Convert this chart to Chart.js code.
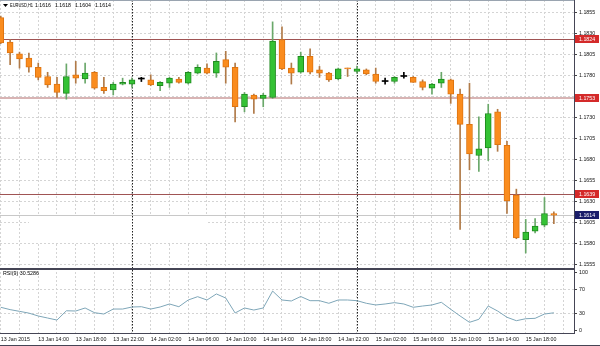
<!DOCTYPE html>
<html>
<head>
<meta charset="utf-8">
<script src="https://cdn.jsdelivr.net/npm/chart.js@4.4.1/dist/chart.umd.min.js"></script>
<style>
  html, body { margin: 0; padding: 0; background: #fff; }
  #wrap { position: relative; width: 600px; height: 346px; }
</style>
</head>
<body>
<div id="wrap"><canvas id="chart" width="600" height="346"></canvas></div>
<script>
// EURUSD H1, 13 Jan 10:00 -> 15 Jan 21:00 (one entry per bar)
const opens = [1.1849, 1.1820, 1.1806, 1.1801, 1.1790, 1.1779, 1.1770, 1.1759, 1.1781, 1.1776,
  1.1784, 1.1766, 1.1763, 1.1770, 1.1770, 1.1776, 1.1775, 1.1768, 1.1771, 1.1776,
  1.1771, 1.1783, 1.1789, 1.1783, 1.1799, 1.1790, 1.1743, 1.1757, 1.1753, 1.1754,
  1.1823, 1.1789, 1.1784, 1.1803, 1.1787, 1.1783, 1.1776, 1.1789, 1.1785, 1.1787,
  1.1782, 1.1773, 1.1773, 1.1779, 1.1778, 1.1773, 1.1765, 1.1771, 1.1775, 1.1758,
  1.1722, 1.1685, 1.1694, 1.1737, 1.1697, 1.1638, 1.1585, 1.1595, 1.1602, 1.1616];
const highs = [1.1851, 1.1823, 1.1808, 1.1807, 1.1795, 1.1784, 1.1778, 1.1794, 1.1797, 1.1795,
  1.1785, 1.1778, 1.1772, 1.1777, 1.1777, 1.1778, 1.1781, 1.1773, 1.1778, 1.1778,
  1.1785, 1.1793, 1.1794, 1.1807, 1.1809, 1.1795, 1.1760, 1.1758, 1.1759, 1.1844,
  1.1838, 1.1795, 1.1808, 1.1812, 1.1791, 1.1784, 1.1789, 1.1789, 1.1791, 1.1788,
  1.1789, 1.1777, 1.1779, 1.1784, 1.1779, 1.1775, 1.1771, 1.1784, 1.1776, 1.1764,
  1.1771, 1.1731, 1.1746, 1.1740, 1.1702, 1.1645, 1.1609, 1.1610, 1.1635, 1.1618];
const lows = [1.1818, 1.1793, 1.1789, 1.1784, 1.1775, 1.1766, 1.1754, 1.1752, 1.1771, 1.1771,
  1.1764, 1.1759, 1.1757, 1.1769, 1.1766, 1.1773, 1.1768, 1.1762, 1.1766, 1.1771,
  1.1770, 1.1782, 1.1782, 1.1778, 1.1771, 1.1725, 1.1737, 1.1735, 1.1743, 1.1753,
  1.1787, 1.1770, 1.1783, 1.1782, 1.1778, 1.1773, 1.1775, 1.1779, 1.1783, 1.1781,
  1.1771, 1.1770, 1.1771, 1.1777, 1.1772, 1.1763, 1.1758, 1.1766, 1.1747, 1.1597,
  1.1668, 1.1666, 1.1679, 1.1690, 1.1616, 1.1586, 1.1569, 1.1593, 1.1600, 1.1604];
const closes = [1.1819, 1.1807, 1.1800, 1.1790, 1.1778, 1.1769, 1.1760, 1.1779, 1.1777, 1.1783,
  1.1765, 1.1762, 1.1770, 1.1772, 1.1775, 1.1776, 1.1769, 1.1772, 1.1777, 1.1772,
  1.1784, 1.1790, 1.1783, 1.1797, 1.1790, 1.1743, 1.1758, 1.1752, 1.1757, 1.1821,
  1.1788, 1.1783, 1.1803, 1.1784, 1.1783, 1.1775, 1.1788, 1.1788, 1.1788, 1.1782,
  1.1773, 1.1773, 1.1778, 1.1779, 1.1772, 1.1766, 1.1770, 1.1776, 1.1758, 1.1722,
  1.1687, 1.1693, 1.1735, 1.1698, 1.1631, 1.1587, 1.1594, 1.1601, 1.1616, 1.1614];
const rsi = [40, 36, 33, 30, 25, 21.5, 18, 34, 33.6, 38.8,
  30.7, 28.4, 37, 37, 40.5, 41, 37, 40.5, 45.7, 41,
  52.6, 58.3, 52.6, 63, 56, 30.2, 38.8, 35.3, 38.8, 68,
  52.6, 50.9, 58.6, 51.4, 51.4, 46.9, 52.6, 52.6, 51.4, 46.9,
  44, 45.7, 48, 45.7, 40, 42.2, 44, 48.6, 36.6, 25,
  14.1, 19.3, 42.2, 33.6, 22.8, 16.9, 20.3, 21, 28.4, 30.5286];

const tickIndex = [0, 4, 8, 12, 16, 20, 24, 28, 32, 36, 40, 44, 48, 52, 56];
const tickLabels = ['13 Jan 2015', '13 Jan 14:00', '13 Jan 18:00', '13 Jan 22:00', '14 Jan 02:00',
  '14 Jan 06:00', '14 Jan 10:00', '14 Jan 14:00', '14 Jan 18:00', '14 Jan 22:00',
  '15 Jan 02:00', '15 Jan 06:00', '15 Jan 10:00', '15 Jan 14:00', '15 Jan 18:00'];
const priceTicks = [1.1555, 1.1580, 1.1605, 1.1630, 1.1655, 1.1680, 1.1705, 1.1730,
  1.1755, 1.1780, 1.1805, 1.1830, 1.1855];
const rsiTicks = [0, 30, 70, 100];
const levels = [1.1824, 1.1753, 1.1639];
const lastPrice = 1.1614;
const daySeparators = [14, 38];

const FONT = 'Liberation Sans, Arial, sans-serif';

function kind(i) {
  if (closes[i] > opens[i]) return 'up';
  if (closes[i] < opens[i]) return 'down';
  return 'doji';
}
const bodyFill = { up: '#34c234', down: '#fa8c1e', doji: '#000' };
const bodyEdge = { up: '#1f8a1f', down: '#de7410', doji: '#000' };
const wickCol = { up: '#6aa86a', down: '#b07a48', doji: '#000' };

const bodies = opens.map((o, i) => ({ x: i, y: [o, closes[i]] }));
const wicks = lows.map((l, i) => ({ x: i, y: [l, highs[i]] }));
const rsiPts = rsi.map((v, i) => ({ x: i, y: v }));

function noPad(s) {
  s.paddingTop = 0; s.paddingBottom = 0; s.paddingLeft = 0; s.paddingRight = 0;
}

const overlay = {
  id: 'overlay',
  beforeDatasetsDraw(chart) {
    const { ctx, chartArea: a, scales: { x, y } } = chart;
    ctx.save();
    // empty patch in the lower left of the price pane (no grid there)
    const lp = Math.round(y.getPixelForValue(lastPrice));
    ctx.fillStyle = '#fff';
    ctx.fillRect(29, lp + 1, 178, 26);
    // horizontal levels
    levels.forEach((v, k) => {
      const py = Math.round(y.getPixelForValue(v));
      if (k === 1) {
        ctx.fillStyle = '#d8b4b4';
        ctx.fillRect(a.left, py - 1, a.right - a.left, 2);
      } else {
        ctx.fillStyle = '#a05454';
        ctx.fillRect(a.left, py, a.right - a.left, 1);
      }
    });
    ctx.fillStyle = '#c8c8c8';
    ctx.fillRect(a.left, lp, a.right - a.left, 1);
    // day separators
    ctx.strokeStyle = '#222';
    ctx.lineWidth = 1;
    ctx.setLineDash([1.5, 1.5]);
    daySeparators.forEach(i => {
      const px = Math.round(x.getPixelForValue(i)) + 0.5;
      ctx.beginPath();
      ctx.moveTo(px, a.top);
      ctx.lineTo(px, a.bottom);
      ctx.stroke();
    });
    ctx.restore();
  },
  afterDraw(chart) {
    const { ctx, chartArea: a, scales: { y, yr } } = chart;
    ctx.save();
    // frame
    ctx.fillStyle = '#9aa4b0';
    ctx.fillRect(a.left, 0, a.right - a.left, 1);
    ctx.fillStyle = '#454555';
    ctx.fillRect(a.left, y.bottom - 1, a.right - a.left, 2);
    ctx.fillRect(a.left, a.bottom, a.right - a.left + 1, 1);
    ctx.fillRect(a.right, 0, 1, a.bottom);
    ctx.fillRect(0, 345, 600, 1);

    // price boxes on the axis
    ctx.font = '5.3px ' + FONT;
    ctx.textBaseline = 'middle';
    const boxes = levels.map(v => ({ v: v, bg: '#d42a2a' }));
    boxes.push({ v: lastPrice, bg: '#1b1e6a' });
    boxes.forEach(b => {
      const py = y.getPixelForValue(b.v);
      ctx.fillStyle = b.bg;
      ctx.fillRect(a.right + 1, Math.round(py) - 4, 24, 8);
      ctx.fillStyle = '#fff';
      ctx.fillText(b.v.toFixed(4), a.right + 5, py + 0.5);
    });

    // header + indicator label
    ctx.fillStyle = '#000';
    ctx.beginPath();
    ctx.moveTo(3, 4);
    ctx.lineTo(8, 4);
    ctx.lineTo(5.5, 7);
    ctx.closePath();
    ctx.fill();
    ctx.fillText('EURUSD,H1', 10, 6, 23);
    const hdr = [opens[59], highs[59], lows[59], closes[59]];
    hdr.forEach((v, k) => ctx.fillText(v.toFixed(4), 35 + k * 20, 6, 16));
    ctx.fillText('RSI(9) ' + rsi[59].toFixed(4), 3, yr.top + 5, 37);
    ctx.restore();
  }
};

const ctx = document.getElementById('chart').getContext('2d');
const chart = new Chart(ctx, {
  type: 'bar',
  data: {
    datasets: [{
      label: 'body',
      data: bodies,
      yAxisID: 'y',
      grouped: false,
      barThickness: 6,
      minBarLength: 1,
      borderWidth: c => kind(c.dataIndex) === 'doji' ? 0 : 1,
      borderSkipped: false,
      backgroundColor: c => bodyFill[kind(c.dataIndex)],
      borderColor: c => bodyEdge[kind(c.dataIndex)],
      order: 1
    }, {
      label: 'wick',
      data: wicks,
      yAxisID: 'y',
      grouped: false,
      barThickness: 1,
      borderWidth: 0,
      backgroundColor: c => wickCol[kind(c.dataIndex)],
      order: 2
    }, {
      type: 'line',
      label: 'RSI(9)',
      data: rsiPts,
      yAxisID: 'yr',
      borderColor: '#7ea6b8',
      borderWidth: 1,
      pointRadius: 0,
      tension: 0,
      order: 0
    }]
  },
  options: {
    responsive: false,
    animation: false,
    layout: { padding: 0 },
    plugins: { legend: { display: false }, tooltip: { enabled: false } },
    scales: {
      x: {
        type: 'linear',
        offset: false,
        min: -0.08,
        max: 61.15,
        afterBuildTicks: s => { s.ticks = []; for (let i = 0; i <= 60; i += 2) s.ticks.push({ value: i }); },
        afterFit: s => { s.height = 13; noPad(s); },
        ticks: {
          autoSkip: false,
          maxRotation: 0,
          align: 'start',
          padding: 3,
          color: '#111',
          font: { family: FONT, size: 5.3 },
          callback: v => { const k = tickIndex.indexOf(v); return k >= 0 ? tickLabels[k] : ''; }
        },
        grid: { color: '#d4d4d4', drawTicks: false, offset: false },
        border: { display: false, dash: [2, 2] }
      },
      y: {
        position: 'right',
        stack: 'panes',
        stackWeight: 269,
        min: 1.1550,
        max: 1.1870,
        afterBuildTicks: s => { s.ticks = priceTicks.map(v => ({ value: v })); },
        afterFit: s => { s.width = 26; noPad(s); },
        ticks: {
          padding: 2,
          color: '#111',
          font: { family: FONT, size: 5.3 },
          callback: v => v.toFixed(4)
        },
        grid: { color: '#d4d4d4', tickColor: '#444', tickLength: 3, tickBorderDash: [] },
        border: { display: false, dash: [2, 2] }
      },
      yr: {
        position: 'right',
        stack: 'panes',
        stackWeight: 64,
        min: -4.3,
        max: 106,
        afterBuildTicks: s => { s.ticks = rsiTicks.map(v => ({ value: v })); },
        afterFit: s => { s.width = 26; noPad(s); },
        ticks: {
          padding: 2,
          color: '#111',
          font: { family: FONT, size: 5.3 },
          callback: v => String(v)
        },
        grid: {
          color: c => (c.tick && (c.tick.value === 30 || c.tick.value === 70)) ? '#d4d4d4' : 'rgba(0,0,0,0)',
          tickColor: '#444', tickLength: 3, tickBorderDash: []
        },
        border: { display: false, dash: [2, 2] }
      }
    }
  },
  plugins: [overlay]
});
</script>
</body>
</html>
